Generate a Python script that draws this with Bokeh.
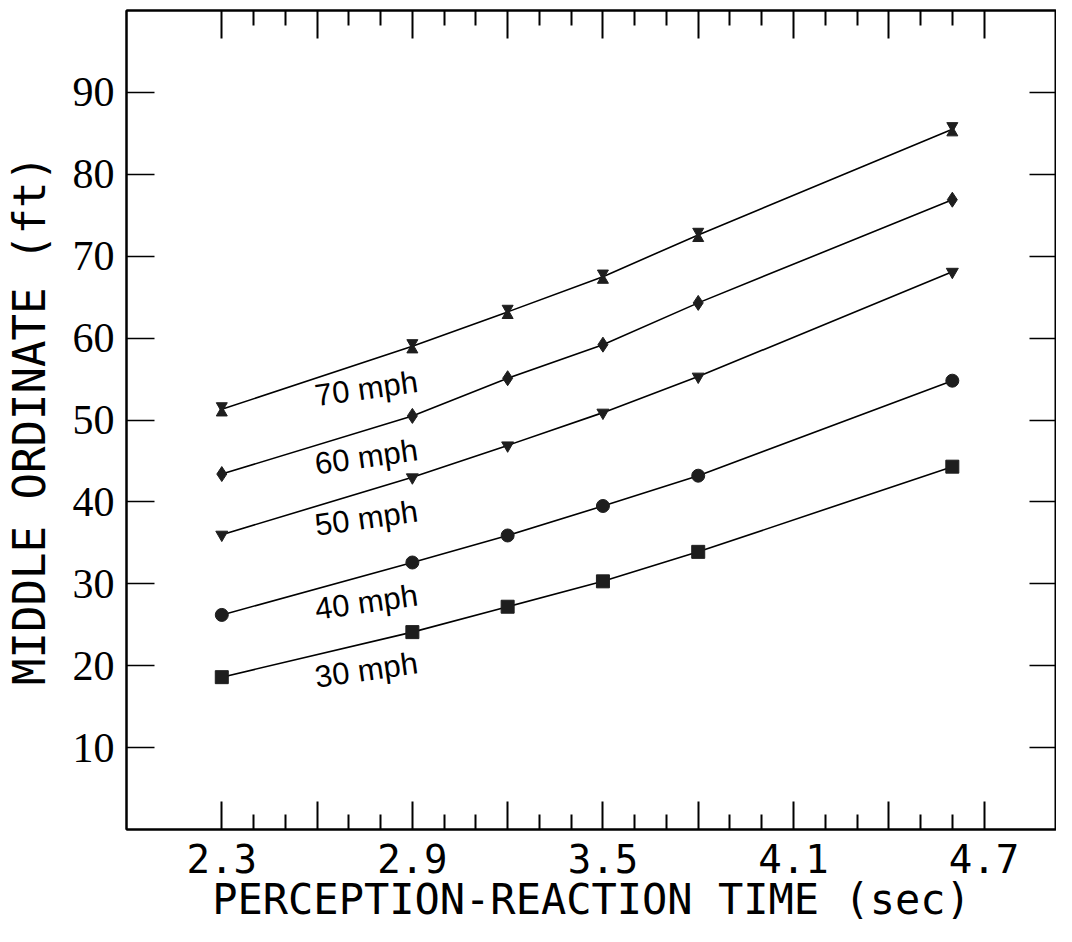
from bokeh.plotting import figure
from bokeh.models import (Range1d, LinearAxis, FixedTicker, ColumnDataSource,
                          CustomJSTickFormatter)
from bokeh.transform import dodge
from bokeh.embed import file_html
from bokeh.resources import INLINE
from bokeh.core.properties import value
import numpy as np

# ---- data ----
times = [2.3, 2.9, 3.2, 3.5, 3.8, 4.6]
mph30 = [18.6, 24.1, 27.2, 30.3, 33.9, 44.3]
mph40 = [26.2, 32.6, 35.9, 39.5, 43.2, 54.8]
mph50 = [36.0, 43.0, 46.9, 50.9, 55.3, 68.1]
mph60 = [43.4, 50.5, 55.1, 59.2, 64.3, 76.9]
mph70 = [51.3, 59.0, 63.2, 67.5, 72.6, 85.5]
series_names = ["30 mph", "40 mph", "50 mph", "60 mph", "70 mph"]

x_major = [2.3, 2.6, 2.9, 3.2, 3.5, 3.8, 4.1, 4.4, 4.7]
x_labeled = [2.3, 2.9, 3.5, 4.1, 4.7]
x_minor = [2.4, 2.5, 2.7, 2.8, 3.0, 3.1, 3.3, 3.4, 3.6, 3.7, 3.9, 4.0, 4.2, 4.3, 4.5, 4.6]
y_major = [10, 20, 30, 40, 50, 60, 70, 80, 90]
x_title = "PERCEPTION-REACTION TIME (sec)"
y_title = "MIDDLE ORDINATE (ft)"

MONO = "DejaVu Sans Mono"

p = figure(width=1056, height=926,
           x_range=Range1d(2.0, 4.928), y_range=Range1d(0, 100),
           output_backend="svg", toolbar_location=None,
           x_axis_location=None, y_axis_location=None,
           min_border_left=124, min_border_right=0,
           min_border_top=10, min_border_bottom=95)
for g in p.grid:
    g.visible = False
p.outline_line_color = "black"
p.outline_line_width = 2
p.background_fill_color = "white"
p.border_fill_color = "white"

xt = FixedTicker(ticks=x_major, minor_ticks=x_minor)
yt = FixedTicker(ticks=y_major, minor_ticks=[])

overrides = {t: "" for t in x_major if t not in x_labeled}

def style_axis(ax, tick_len, minor_len):
    ax.axis_line_color = "black"
    ax.axis_line_width = 2
    ax.major_tick_line_color = "black"
    ax.major_tick_line_width = 2
    ax.major_tick_in = tick_len
    ax.major_tick_out = 0
    ax.minor_tick_line_color = "black"
    ax.minor_tick_line_width = 2
    ax.minor_tick_in = minor_len
    ax.minor_tick_out = 0

def blank_axis(ax):
    ax.formatter = CustomJSTickFormatter(code="return ''")
    ax.major_label_text_font_size = "0px"
    ax.major_label_standoff = 0
    ax.axis_label_standoff = 0

bottom = LinearAxis(ticker=xt, major_label_overrides=overrides,
                    axis_label=x_title)
style_axis(bottom, 28, 15)
bottom.major_label_text_font = MONO
bottom.major_label_text_font_size = "39px"
bottom.major_label_text_color = "black"
bottom.major_label_standoff = 14
bottom.axis_label_text_font = MONO
bottom.axis_label_text_font_size = "42px"
bottom.axis_label_text_font_style = "normal"
bottom.axis_label_text_color = "black"
bottom.axis_label_standoff = -1
p.add_layout(bottom, "below")

top = LinearAxis(ticker=xt)
style_axis(top, 28, 15)
blank_axis(top)
p.add_layout(top, "above")

left = LinearAxis(ticker=yt, axis_label=y_title)
style_axis(left, 28, 0)
left.major_tick_line_width = 1.5
left.major_label_text_font = "Liberation Serif"
left.major_label_text_font_size = "42px"
left.major_label_text_color = "black"
left.major_label_standoff = 12
left.axis_label_text_font = MONO
left.axis_label_text_font_size = "44px"
left.axis_label_text_font_style = "normal"
left.axis_label_text_color = "black"
left.axis_label_standoff = 15
p.add_layout(left, "left")

right = LinearAxis(ticker=yt)
style_axis(right, 27, 0)
right.major_tick_line_width = 1.5
blank_axis(right)
p.add_layout(right, "right")

series = [mph30, mph40, mph50, mph60, mph70]
markers = ["square", "circle", "inverted_triangle", "diamond", None]
sizes = [13, 13, 12, 15, None]
mk_color = "#1e1e1e"

for vals, mk, sz in zip(series, markers, sizes):
    src = ColumnDataSource(dict(x=times, y=vals))
    p.line("x", "y", source=src, line_color="black", line_width=1.6)
    if mk is not None:
        p.scatter("x", "y", source=src, marker=mk, size=sz,
                  fill_color=mk_color, line_color=mk_color)
    else:
        # hourglass marker built from two triangles
        p.scatter(x="x", y=dodge("y", 0.42, range=p.y_range), source=src,
                  marker="inverted_triangle", size=11,
                  fill_color=mk_color, line_color=mk_color)
        p.scatter(x="x", y=dodge("y", -0.42, range=p.y_range), source=src,
                  marker="triangle", size=11,
                  fill_color=mk_color, line_color=mk_color)

# series labels, placed below each curve near x = 2.755
label_x = 2.755
lab_src = ColumnDataSource(dict(
    x=[label_x] * len(series),
    y=[float(np.interp(label_x, times, v)) - 3.3 for v in series],
    t=series_names))
p.text(x="x", y="y", text="t", source=lab_src, angle=0.14,
       text_font=value("Liberation Sans"), text_font_size="31px",
       text_align="center", text_baseline="middle", text_color="black")

open("out.html", "w").write(file_html(p, INLINE))
